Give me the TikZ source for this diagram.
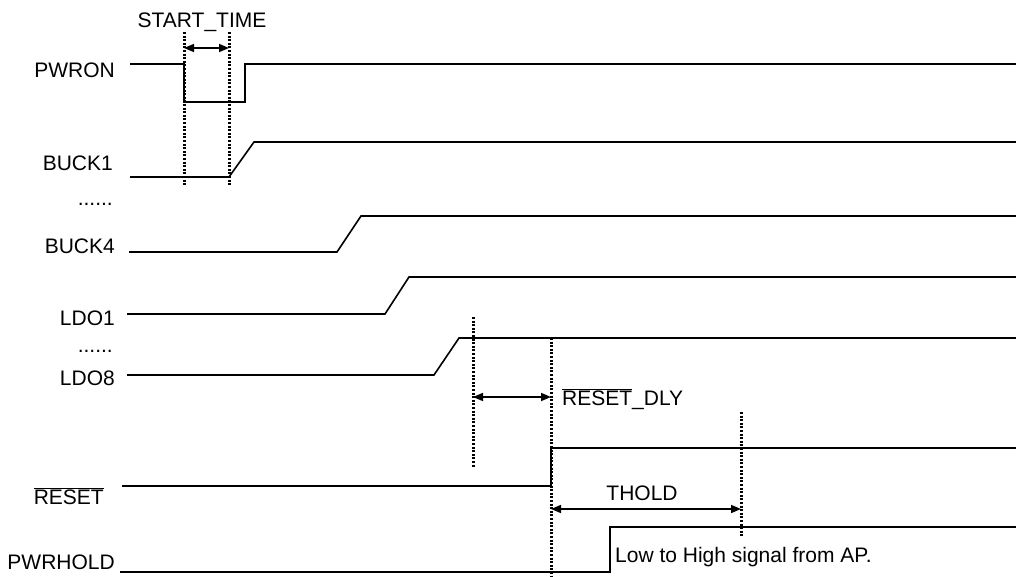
\documentclass[tikz,border=0pt]{standalone}
\usepackage{fontspec}
\setmainfont{Liberation Sans}
\usepackage{tikz}
\usetikzlibrary{arrows.meta}
\tikzset{
wave/.style={draw, line width=1.6pt},
marker/.style={draw, line width=3pt, dash pattern=on 2pt off 1.6pt},
sig/.style={inner sep=0pt, anchor=base east},
dim/.style={line width=1.6pt, {Triangle[length=10pt, width=8pt]}-{Triangle[length=10pt, width=8pt]}}
}

\begin{document}
\begin{tikzpicture}[x=1pt, y=-1pt, font=\fontsize{21}{25}\selectfont]
\useasboundingbox (0,0) rectangle (1016,576);
\node[sig] (pwron) at (115,77) {PWRON};
\node[sig] (buck1) at (113,170) {BUCK1};
\node[sig] (dotsa) at (113,205) {......};
\node[sig] (buck4) at (115,253) {BUCK4};
\node[sig] (ldo1) at (115,325) {LDO1};
\node[sig] (dotsb) at (113,352) {......};
\node[sig] (ldo8) at (115,385) {LDO8};
\node[sig] (reset) at (104,504) {$\overline{\mbox{RESET}}$};
\node[sig] (pwrhold) at (115,569) {PWRHOLD};
\draw[wave] (130,64) -- (184,64) -- (184,102) -- (245,102) -- (245,64) -- (1016,64);
\foreach \lo/\x/\ra/\rb/\hi in {177/130/229/254/142, 252/129/337/361/216, 314/127/385/409/277, 375/127/434/459/338}
\draw[wave] (\x,\lo) -- (\ra,\lo) -- (\rb,\hi) -- (1016,\hi);
\draw[wave] (122,486) -- (551,486) -- (551,448) -- (1016,448);
\draw[wave] (120,572) -- (610,572) -- (610,527) -- (1016,527);
\draw[marker] (184,32) -- (184,186);
\draw[marker] (229,32) -- (229,186);
\draw[marker] (473,317) -- (473,468);
\draw[marker] (551,338) -- (551,576);
\draw[marker] (741,412) -- (741,537);
\coordinate (stA) at (184,48);
\coordinate (stB) at (229,48);
\coordinate (dlyA) at (473,397);
\coordinate (dlyB) at (551,397);
\coordinate (holdA) at (551,509);
\coordinate (holdB) at (741,509);
\draw[dim] (stA) -- (stB);
\draw[dim] (dlyA) -- (dlyB);
\draw[dim] (holdA) -- (holdB);
\node[inner sep=0pt, anchor=base] (starttime) at (202,27) {START\_TIME};
\node[inner sep=0pt, anchor=base west] (resetdly) at (562,405) {$\overline{\mbox{RESET}}$\_DLY};
\node[inner sep=0pt, anchor=base] (thold) at (642,500) {THOLD};
\node[inner sep=0pt, anchor=base west] (apnote) at (615,562) {Low to High signal from AP.};
\end{tikzpicture}
\end{document}
